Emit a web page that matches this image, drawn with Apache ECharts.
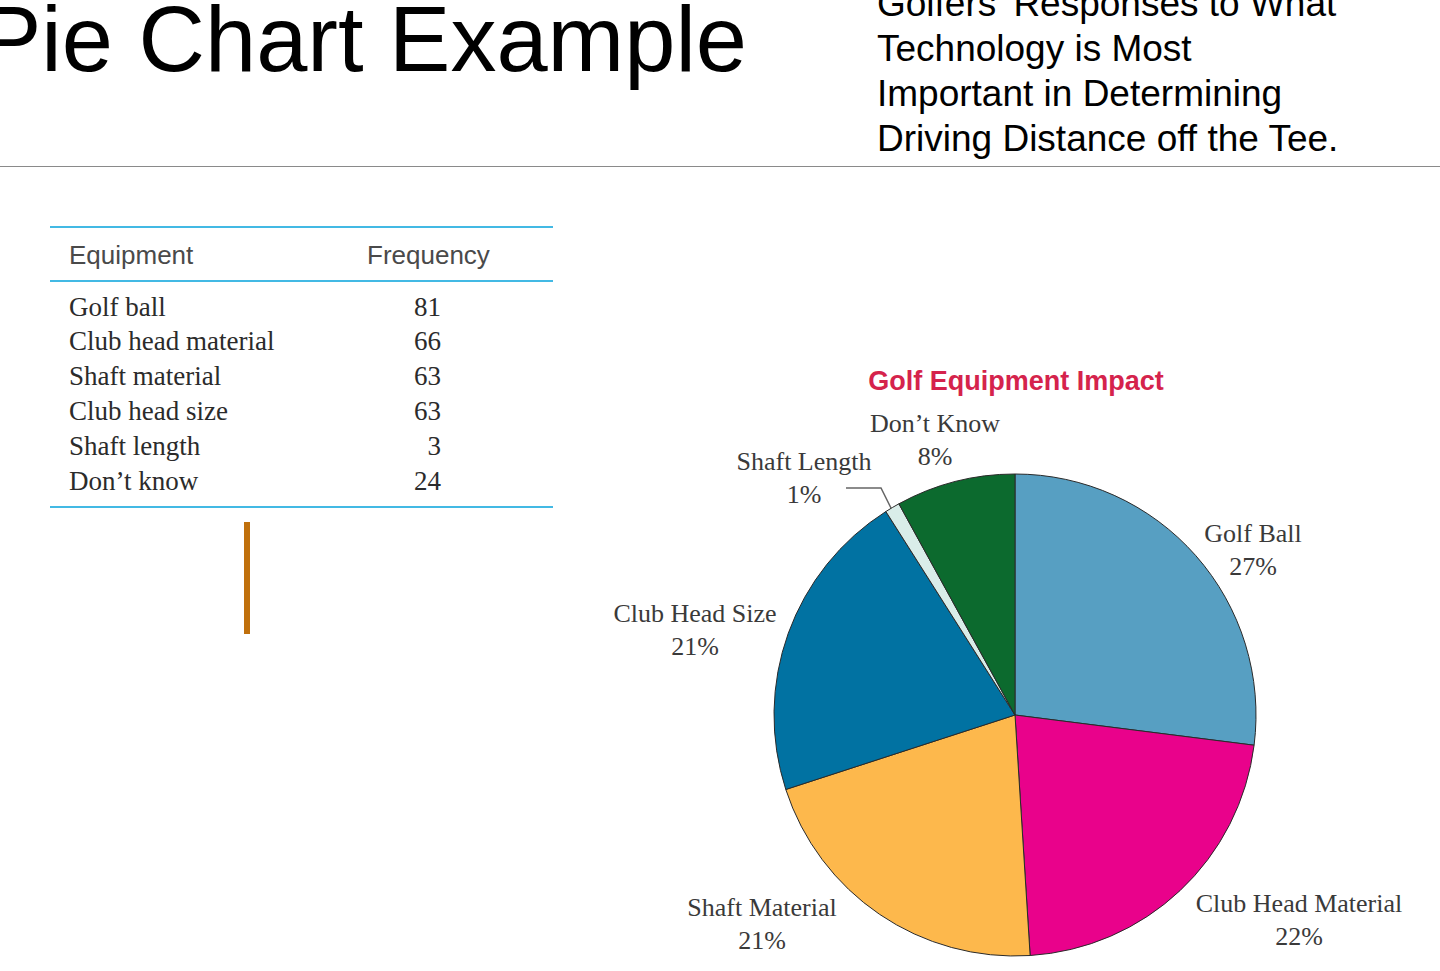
<!DOCTYPE html>
<html>
<head>
<meta charset="utf-8">
<script src="https://cdn.jsdelivr.net/npm/echarts@6/dist/echarts.min.js"></script>
<style>
  html, body { margin: 0; padding: 0; background: #fff; overflow: hidden; }
  #page { position: relative; width: 1440px; height: 971px; overflow: hidden; }
  #chart { position: absolute; left: 0; top: 0; width: 1440px; height: 971px; }
  .bigTitle { position: absolute; left: -20px; top: -7px; font: 92px/92px "Liberation Sans", Arial, sans-serif; color: #000; white-space: nowrap; }
  .subTitle { position: absolute; left: 877px; top: -19px; font: 37px/45px "Liberation Sans", Arial, sans-serif; color: #000; white-space: nowrap; }
  .rule { position: absolute; left: 0; top: 166px; width: 1440px; height: 0; border-top: 1.5px solid #8a8a8a; }
  .tline { position: absolute; left: 50px; width: 503px; height: 0; border-top: 2px solid #43b9e4; }
  .th { position: absolute; font: 26px/35px "Liberation Sans", Arial, sans-serif; color: #4a4a4a; white-space: nowrap; }
  .td { position: absolute; font: 27px/35px "Liberation Serif", "Times New Roman", serif; color: #2b2b2b; white-space: nowrap; }
  .num { text-align: right; width: 80px; }
  .bar { position: absolute; left: 244px; top: 522px; width: 6px; height: 112px; background: #c0700c; }
</style>
</head>
<body>
<div id="page">
  <div id="chart"></div>
  <div class="bigTitle">Pie Chart Example</div>
  <div class="subTitle">Golfers’ Responses to What<br>Technology is Most<br>Important in Determining<br>Driving Distance off the Tee.</div>
  <div class="rule"></div>
  <div id="table"></div>
  <div class="bar"></div>
</div>
<script>
// 数据
var tableHead = ['Equipment', 'Frequency'];
var tableNames = ['Golf ball', 'Club head material', 'Shaft material', 'Club head size', 'Shaft length', 'Don’t know'];
var pieNames = ['Golf Ball', 'Club Head Material', 'Shaft Material', 'Club Head Size', 'Shaft Length', 'Don’t Know'];
var frequency = [81, 66, 63, 63, 3, 24];
var sliceColors = ['#579fc2', '#e9028b', '#fdb84c', '#0172a2', '#d9ede9', '#0c6a2e'];

// 表格
function buildTable() {
	var box = document.getElementById('table');
	var html = '';
	html += '<div class="tline" style="top:226px"></div>';
	html += '<div class="tline" style="top:280px"></div>';
	html += '<div class="tline" style="top:506px"></div>';
	html += '<div class="th" style="left:69px;top:238px">' + tableHead[0] + '</div>';
	html += '<div class="th" style="left:367px;top:238px">' + tableHead[1] + '</div>';
	for (var i = 0; i < tableNames.length; i++) {
		var top = 289.5 + i * 34.8;
		html += '<div class="td" style="left:69px;top:' + top + 'px">' + tableNames[i] + '</div>';
		html += '<div class="td num" style="left:361px;top:' + top + 'px">' + frequency[i] + '</div>';
	}
	box.innerHTML = html;
}
buildTable();

// 饼图标签位置 (布局用)
var labelPos = [[1253, 550], [1299, 920], [762, 924], [695, 630], [804, 478], [935, 440]];

var chart = echarts.init(document.getElementById('chart'), null, { renderer: 'svg' });
var pieData = [];
for (var i = 0; i < pieNames.length; i++) {
	pieData.push({
		name: pieNames[i],
		value: frequency[i],
		itemStyle: { color: sliceColors[i] },
		labelLine: { show: i === 4 }
	});
}
var option = {
	animation: false,
	graphic: [{
		type: 'text',
		x: 1016,
		y: 381,
		style: {
			text: 'Golf Equipment Impact',
			font: 'bold 27px "Liberation Sans", Arial, sans-serif',
			fill: '#d5234c',
			textAlign: 'center',
			textVerticalAlign: 'middle'
		}
	}],
	series: [{
		type: 'pie',
		center: [1015, 715],
		radius: 241,
		startAngle: 90,
		clockwise: true,
		percentPrecision: 0,
		data: pieData,
		itemStyle: { borderColor: '#2a2a2a', borderWidth: 1 },
		label: {
			show: true,
			position: 'outside',
			formatter: '{b}\n{d}%',
			fontFamily: '"Liberation Serif", "Times New Roman", serif',
			fontSize: 26,
			lineHeight: 33,
			color: '#3a3a3a',
			align: 'center',
			overflow: 'none'
		},
		labelLine: {
			show: false,
			lineStyle: { color: '#666', width: 1.5 }
		},
		labelLayout: function (params) {
			var p = labelPos[params.dataIndex];
			var res = { x: p[0], y: p[1], align: 'center', verticalAlign: 'middle' };
			if (params.dataIndex === 4) {
				res.labelLinePoints = [[892, 510], [881, 488], [846, 488]];
			}
			return res;
		}
	}]
};
chart.setOption(option);
</script>
</body>
</html>
